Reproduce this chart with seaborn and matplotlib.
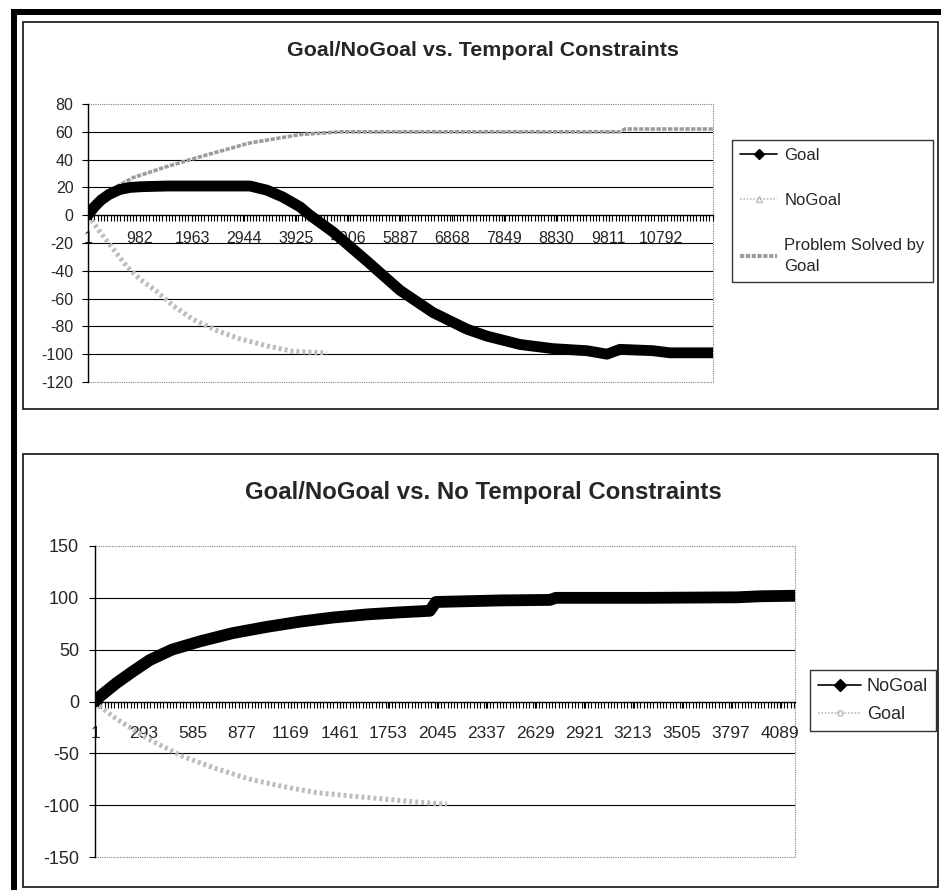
import matplotlib
matplotlib.use("Agg")
import matplotlib.pyplot as plt
import seaborn as sns
from matplotlib.lines import Line2D
from matplotlib.patches import Rectangle
from matplotlib.ticker import MultipleLocator

# ---------------- data: temporal constraints ----------------
top_title = "Goal/NoGoal vs. Temporal Constraints"
top_categories = 11780
top_tick_labels = [1, 982, 1963, 2944, 3925, 4906, 5887, 6868, 7849, 8830, 9811, 10792]
top_yticks = [-120, -100, -80, -60, -40, -20, 0, 20, 40, 60, 80]

top_goal_x = [1, 120, 250, 400, 600, 800, 1000, 1500, 2000, 2500, 3053, 3374, 3675,
              3996, 4184, 4617, 5258, 5880, 6502, 7143, 7520, 8142, 8764, 9405, 9782,
              10027, 10649, 10970, 11780]
top_goal_y = [0, 6, 11, 15, 18.5, 20, 20.5, 21, 21, 21, 21, 18, 13,
              6, 0, -12, -33, -54, -70, -82, -87, -93, -96, -97.5, -100,
              -96.5, -97.5, -99, -99]

top_nogoal_x = [1, 226, 471, 735, 980, 1300, 1602, 1979, 2431, 2865, 3374, 3864, 4504]
top_nogoal_y = [0, -12, -24, -37, -46, -55, -65, -75, -83, -89, -94, -98, -99]

top_solved_x = [1, 226, 471, 848, 1489, 2111, 3053, 3996, 4750, 6260, 7770, 10027, 10120, 11780]
top_solved_y = [0, 10, 19, 27, 35, 42, 52, 58, 60, 60, 60, 60, 62, 62]

# ---------------- data: no temporal constraints ----------------
bottom_title = "Goal/NoGoal vs. No Temporal Constraints"
bottom_categories = 4180
bottom_tick_labels = [1, 293, 585, 877, 1169, 1461, 1753, 2045, 2337, 2629, 2921,
                      3213, 3505, 3797, 4089]
bottom_yticks = [-150, -100, -50, 0, 50, 100, 150]

bottom_nogoal_x = [1, 31, 131, 227, 328, 460, 627, 824, 1027, 1224, 1421, 1624, 1821,
                   2000, 2036, 2418, 2717, 2753, 3314, 3834, 3971, 4180]
bottom_nogoal_y = [0, 5, 18, 29, 40, 50, 58, 66, 72, 77, 81, 84, 86,
                   87.5, 96, 97.5, 98, 100, 100, 100.5, 101.5, 102]

bottom_goal_x = [1, 31, 131, 328, 525, 728, 926, 1123, 1326, 1523, 1720, 1923, 2102]
bottom_goal_y = [0, -5, -17, -37, -53, -65, -75, -82, -88, -91, -94, -97, -99]

# ---------------- style ----------------
sns.set_style("white")
plt.rcParams["font.family"] = ["Liberation Sans", "DejaVu Sans"]
plt.rcParams["axes.unicode_minus"] = False

W, H = 941, 890
fig = plt.figure(figsize=(W / 100, H / 100), dpi=100)
fig.patch.set_facecolor("white")


def fx(px):
    return px / W


def fy(py):
    return 1 - py / H


def style_panel(ax, n_cat, ticks, yticks, xfs, yfs, minor_step, xpad, ypad):
    ax.set_xlim(1, n_cat)
    ax.set_ylim(yticks[0], yticks[-1])
    ax.set_yticks(yticks)
    ax.set_yticklabels([str(v) for v in yticks])
    ax.set_xticks(ticks)
    ax.set_xticklabels([str(t) for t in ticks])
    ax.xaxis.set_minor_locator(MultipleLocator(minor_step))
    ax.spines["bottom"].set_position(("data", 0))
    ax.spines["bottom"].set_color("black")
    ax.spines["bottom"].set_linewidth(1.0)
    ax.spines["left"].set_color("black")
    ax.spines["left"].set_linewidth(1.0)
    ax.spines["top"].set_visible(False)
    ax.spines["right"].set_visible(False)
    ax.tick_params(axis="x", which="both", direction="out", length=4.5, width=0.8,
                   color="black", labelsize=xfs, pad=xpad, bottom=True)
    ax.tick_params(axis="y", which="major", direction="out", length=4.5, width=0.8,
                   color="black", labelsize=yfs, pad=ypad, left=True)
    for v in yticks[1:-1]:
        if v != 0:
            ax.axhline(v, color="black", lw=0.8, zorder=0.5)
    ax.add_patch(Rectangle((0, 0), 1, 1, transform=ax.transAxes, fill=False,
                           ls=(0, (1, 1)), ec="#808080", lw=0.8, clip_on=False,
                           zorder=0.4))
    ax.set_xlabel("")
    ax.set_ylabel("")
    ax.set_facecolor("white")


# chart frames and page edge
fig.add_artist(Rectangle((fx(23), fy(409)), fx(915), 387 / H, transform=fig.transFigure,
                         fill=False, ec="#111111", lw=1.2))
fig.add_artist(Rectangle((fx(23), fy(887)), fx(915), 433 / H, transform=fig.transFigure,
                         fill=False, ec="#111111", lw=1.2))
fig.add_artist(Rectangle((fx(11), fy(15)), fx(930), 6 / H, transform=fig.transFigure,
                         fc="black", ec="none"))
fig.add_artist(Rectangle((fx(11), 0), fx(6), fy(9), transform=fig.transFigure,
                         fc="black", ec="none"))

light_gray = "#bdbdbd"
mid_gray = "#9c9c9c"

# ---------------- top chart ----------------
ax1 = fig.add_axes([fx(88), fy(382), fx(625), 278 / H])
sns.lineplot(x=top_nogoal_x, y=top_nogoal_y, ax=ax1, color=light_gray, linewidth=3.6,
             linestyle=(0, (0.6, 0.6)), sort=False, estimator=None, zorder=3)
sns.lineplot(x=top_solved_x, y=top_solved_y, ax=ax1, color=mid_gray, linewidth=2.6,
             linestyle=(0, (1.2, 0.4)), sort=False, estimator=None, zorder=3)
sns.lineplot(x=top_goal_x, y=top_goal_y, ax=ax1, color="black", linewidth=7.8,
             solid_capstyle="round", solid_joinstyle="round", sort=False,
             estimator=None, zorder=4)
style_panel(ax1, top_categories, top_tick_labels, top_yticks, 11.5, 11.5, 61, 7, 6)
fig.text(fx(483), fy(51), top_title, ha="center", va="center", fontsize=15.4,
         fontweight="bold")

top_handles = [
    Line2D([], [], color="black", lw=1.2, marker="D", markersize=5.5,
           mfc="black", mec="black", label="Goal"),
    Line2D([], [], color=light_gray, lw=1.2, ls=(0, (1, 1)), marker="^", markersize=4,
           mfc="none", mec=light_gray, label="NoGoal"),
    Line2D([], [], color=mid_gray, lw=3, ls=(0, (1, 0.4)),
           label="Problem Solved by\nGoal"),
]
leg1 = fig.legend(handles=top_handles, loc="upper left",
                  bbox_to_anchor=(fx(732), fy(140)), bbox_transform=fig.transFigure,
                  frameon=True, fancybox=False, edgecolor="black", fontsize=12,
                  labelspacing=1.8, handlelength=2.2, handletextpad=0.45,
                  borderpad=0.5, borderaxespad=0)
leg1.get_frame().set_linewidth(1.0)
leg1.get_texts()[2].set_linespacing(1.45)

# ---------------- bottom chart ----------------
ax2 = fig.add_axes([fx(95), fy(857), fx(700), 311 / H])
sns.lineplot(x=bottom_goal_x, y=bottom_goal_y, ax=ax2, color=light_gray, linewidth=3.6,
             linestyle=(0, (0.6, 0.6)), sort=False, estimator=None, zorder=3)
sns.lineplot(x=bottom_nogoal_x, y=bottom_nogoal_y, ax=ax2, color="black", linewidth=8.5,
             solid_capstyle="round", solid_joinstyle="round", sort=False,
             estimator=None, zorder=4)
style_panel(ax2, bottom_categories, bottom_tick_labels, bottom_yticks, 12.5, 13,
            19.5, 13.5, 7)
fig.text(fx(483), fy(492), bottom_title, ha="center", va="center", fontsize=17.3,
         fontweight="bold")

bottom_handles = [
    Line2D([], [], color="black", lw=1.2, marker="D", markersize=6,
           mfc="black", mec="black", label="NoGoal"),
    Line2D([], [], color=light_gray, lw=1.2, ls=(0, (1, 1)), marker="o", markersize=4,
           mfc="none", mec=light_gray, label="Goal"),
]
leg2 = fig.legend(handles=bottom_handles, loc="upper left",
                  bbox_to_anchor=(fx(810), fy(670)), bbox_transform=fig.transFigure,
                  frameon=True, fancybox=False, edgecolor="black", fontsize=13,
                  labelspacing=0.6, handlelength=2.4, handletextpad=0.3,
                  borderpad=0.45, borderaxespad=0)
leg2.get_frame().set_linewidth(1.0)

fig.savefig("out.png", dpi=100, facecolor="white")
